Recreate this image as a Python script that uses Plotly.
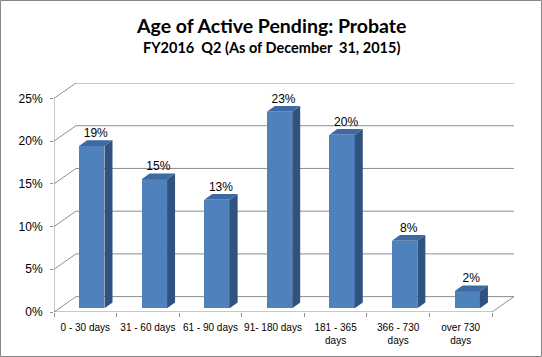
import plotly.graph_objects as go

# ---- data ----
categories = ["0 - 30 days", "31 - 60 days", "61 - 90 days", "91- 180 days",
              "181 - 365<br>days", "366 - 730<br>days", "over 730<br>days"]
values = [19.0, 15.1, 12.7, 23.0, 20.3, 7.9, 2.0]
value_labels = ["19%", "15%", "13%", "23%", "20%", "8%", "2%"]
y_ticks = [0, 5, 10, 15, 20, 25]
y_tick_labels = ["0%", "5%", "10%", "15%", "20%", "25%"]

# ---- geometry (pixels) ----
W, H = 542, 357
ML, MR, MT, MB = 54, 28, 83, 45
PW, PH = W - ML - MR, H - MT - MB
NCAT = len(categories)
PX_X = 438 / NCAT            # px per category unit
XMAX = PW / PX_X
DX = XMAX - NCAT             # wall depth in x units
YMAX = 26.8
PX_Y = PH / YMAX
DY = YMAX - 25               # wall depth in y units

BAR_W = 0.406
BAR_SHIFT = 6.5 / PX_X
BAR_BASE = 3.7 / PX_Y
BDX = 8 / PX_X
BDY = 5.8 / PX_Y

FRONT = "#4F81BD"
SIDE = "#30527F"
TOP = "#3E69A3"
GRID = "#8E8E8E"

xc = [i + 0.5 + BAR_SHIFT for i in range(NCAT)]

fig = go.Figure()
fig.add_trace(go.Bar(
    x=xc, y=values, base=BAR_BASE, width=BAR_W,
    marker=dict(color=FRONT, line=dict(width=0)),
    hoverinfo="skip", showlegend=False))

shapes = []
for v in y_ticks:
    shapes.append(dict(type="line", x0=DX, y0=v + DY, x1=XMAX, y1=v + DY,
                       line=dict(color=GRID, width=1), layer="below"))
    shapes.append(dict(type="line", x0=0, y0=v, x1=DX, y1=v + DY,
                       line=dict(color=GRID, width=1), layer="below"))
shapes.append(dict(type="line", x0=0, y0=0, x1=0, y1=25,
                   line=dict(color=GRID, width=1), layer="below"))
shapes.append(dict(type="line", x0=0, y0=0, x1=NCAT, y1=0,
                   line=dict(color=GRID, width=1), layer="below"))
shapes.append(dict(type="line", x0=NCAT, y0=0, x1=XMAX, y1=DY,
                   line=dict(color=GRID, width=1), layer="below"))

for x, v in zip(xc, values):
    xl, xr = x - BAR_W / 2, x + BAR_W / 2
    b, t = BAR_BASE, BAR_BASE + v
    shapes.append(dict(type="path",
                       path=f"M{xr},{b} L{xr+BDX},{b+BDY} L{xr+BDX},{t+BDY} L{xr},{t} Z",
                       fillcolor=SIDE, line=dict(width=0), layer="above"))
    shapes.append(dict(type="path",
                       path=f"M{xl},{t} L{xl+BDX},{t+BDY} L{xr+BDX},{t+BDY} L{xr},{t} Z",
                       fillcolor=TOP, line=dict(width=0), layer="above"))

shapes.append(dict(type="rect", xref="paper", yref="paper",
                   x0=(0.5 - ML) / PW, x1=(W - 0.5 - ML) / PW,
                   y0=-(MB - 0.5) / PH, y1=(H - MB - 0.5) / PH,
                   line=dict(color="#868686", width=1), fillcolor="rgba(0,0,0,0)"))

fig.add_trace(go.Scatter(
    x=[x + BDX / 2 for x in xc], y=[BAR_BASE + v + BDY for v in values],
    mode="text", text=value_labels, textposition="top center",
    textfont=dict(family="Liberation Sans", size=12, color="#000000"),
    hoverinfo="skip", showlegend=False, cliponaxis=False))

def py(ypx):
    return (H - MB - ypx) / PH

def px(xpx):
    return (xpx - ML) / PW

annotations = [
    dict(text="<b>Age of Active Pending: Probate</b>", xref="paper", yref="paper",
         x=px(271), y=py(25), showarrow=False, xanchor="center", yanchor="middle",
         font=dict(family="Lato", size=19.5, color="#000000")),
    dict(text="<b>FY2016  Q2 (As of December  31, 2015)</b>", xref="paper", yref="paper",
         x=px(271), y=py(47.5), showarrow=False, xanchor="center", yanchor="middle",
         font=dict(family="Lato", size=14.5, color="#000000")),
]

fig.update_layout(
    width=W, height=H, margin=dict(l=ML, r=MR, t=MT, b=MB, pad=0, autoexpand=False),
    paper_bgcolor="white", plot_bgcolor="white",
    shapes=shapes, annotations=annotations, bargap=0,
    xaxis=dict(range=[0, XMAX], showgrid=False, zeroline=False, showline=False,
               automargin=False, tickangle=0,
               tickmode="array", tickvals=[i + 0.5 for i in range(NCAT)],
               ticktext=categories, ticks="outside", ticklen=6,
               tickcolor="rgba(0,0,0,0)",
               tickfont=dict(family="Liberation Sans", size=10, color="#000000"),
               minor=dict(tick0=0, dtick=1, ticks="outside", ticklen=4,
                          tickcolor=GRID, showgrid=False),
               fixedrange=True),
    yaxis=dict(range=[0, YMAX], showgrid=False, zeroline=False, showline=False,
               automargin=False, ticklabelstandoff=5,
               tickmode="array", tickvals=y_ticks, ticktext=y_tick_labels,
               ticks="outside", ticklen=3, tickcolor=GRID,
               tickfont=dict(family="Liberation Sans", size=12, color="#000000"),
               fixedrange=True),
)

fig.write_html("out.html", config={"displayModeBar": False},
               post_script="document.body.style.margin='0';")
